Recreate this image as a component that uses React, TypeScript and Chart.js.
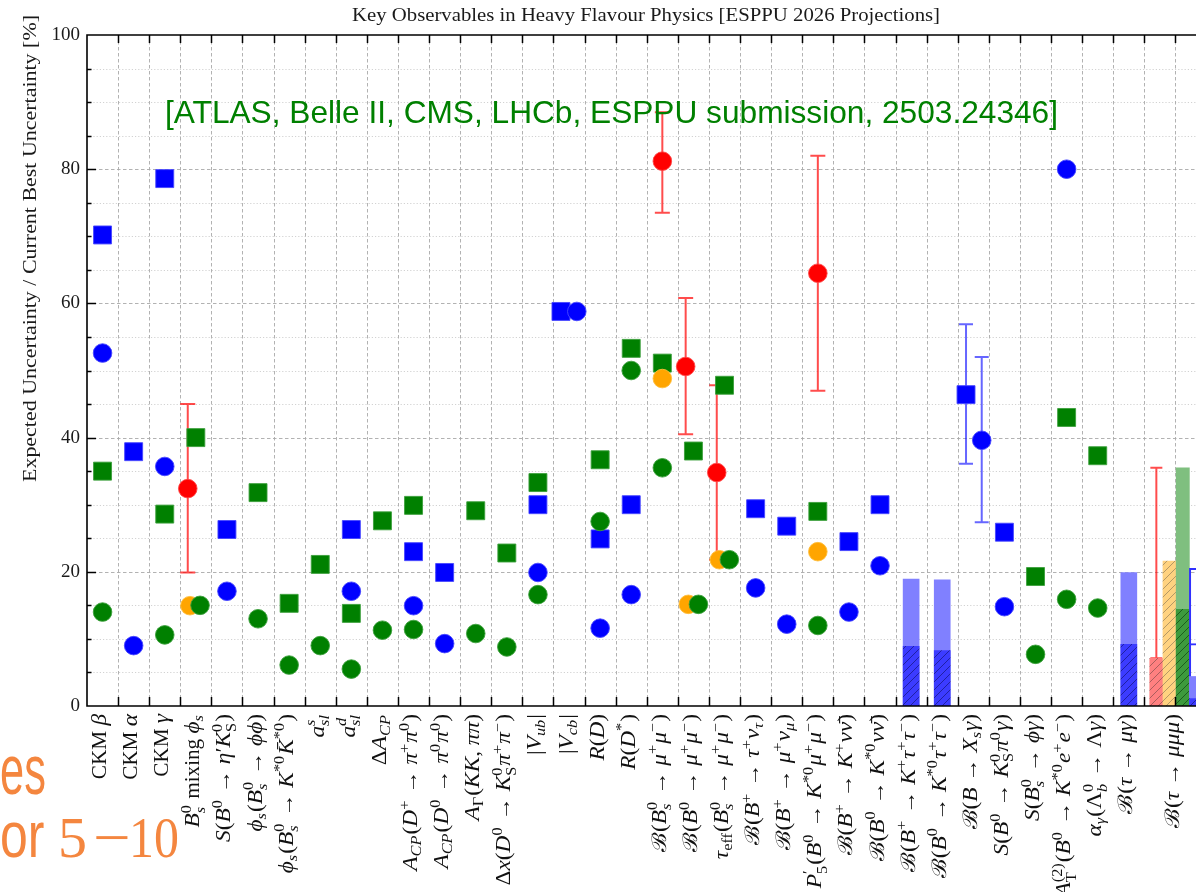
import React, { useEffect, useRef } from 'react';
import { Chart, registerables } from 'chart.js';

Chart.register(...registerables);

const n = null;

// ---- categories (TeX-like markup: $..$ math, _ sub, ^ sup, #{..} upright) ----
const categories = [
  'CKM $β$',
  'CKM $α$',
  'CKM $γ$',
  '$B_s^0$ mixing $ϕ_s$',
  '$S(B^0 → η′K_{#{S}}^0)$',
  '$ϕ_s(B_s^0 → ϕϕ)$',
  '$ϕ_s(B_s^0 → K^{*0}K\u0304^{*0})$',
  '$a_{sl}^s$',
  '$a_{sl}^d$',
  '$ΔA_{CP}$',
  '$A_{CP}(D^+ → π^+π^0)$',
  '$A_{CP}(D^0 → π^0π^0)$',
  '$A_Γ(KK, ππ)$',
  '$Δx(D^0 → K_{#{S}}^0π^+π^−)$',
  '$|V_{ub}|$',
  '$|V_{cb}|$',
  '$R(D)$',
  '$R(D^*)$',
  '$ℬ(B_s^0 → μ^+μ^−)$',
  '$ℬ(B^0 → μ^+μ^−)$',
  '$τ_{#{eff}}(B_s^0 → μ^+μ^−)$',
  '$ℬ(B^+ → τ^+ν_τ)$',
  '$ℬ(B^+ → μ^+ν_μ)$',
  '$P_5^{′}(B^0 → K^{*0}μ^+μ^−)$',
  '$ℬ(B^+ → K^+νν\u0304)$',
  '$ℬ(B^0 → K^{*0}νν\u0304)$',
  '$ℬ(B^+ → K^+τ^+τ^−)$',
  '$ℬ(B^0 → K^{*0}τ^+τ^−)$',
  '$ℬ(B → X_sγ)$',
  '$S(B^0 → K_{#{S}}^0π^0γ)$',
  '$S(B_s^0 → ϕγ)$',
  '$A_{#{T}}^{(2)}(B^0 → K^{*0}e^+e^−)$',
  '$α_γ(Λ_b^0 → Λγ)$',
  '$ℬ(τ → μγ)$',
  '$ℬ(τ → μμμ)$',
];

// category positions on the x axis
const labelPos = [
  0, 1, 2, 3, 4, 5, 6, 7, 8, 9, 10, 11, 12, 13, 14, 15, 16, 17, 18, 19,
  20, 21, 22, 23, 24, 25, 26, 27, 28, 29, 30, 31, 32, 33, 34.5,
];

const yTicks = [0, 20, 40, 60, 80, 100];

// ---- series values (% of current best uncertainty) ----
const blueSquare = [70.2, 37.9, 78.6, n, 26.3, n, n, n, 26.3, n, 23.0, 19.9, n, n, 30.0, 58.8, 24.9, 30.0, n, n, n, 29.4, 26.8, n, 24.5, 30.0, n, n, 46.4, 25.9, n, n, n, n, n];
const blueCircle = [52.6, 9.0, 35.7, n, 17.1, n, n, n, 17.1, n, 14.95, 9.3, n, n, 19.9, 58.8, 11.6, 16.6, n, n, n, 17.6, 12.2, n, 14.0, 20.9, n, n, 39.6, 14.8, n, 80.0, n, n, n];
const greenSquare = [35.0, n, 28.6, 40.0, n, 31.8, 15.3, 21.1, 13.8, 27.6, 29.9, n, 29.1, 22.8, 33.3, n, 36.7, 53.3, 51.1, 38.0, 47.8, n, n, 29.0, n, n, n, n, n, n, 19.3, 43.0, 37.3, n, n];
const greenCircle = [14.0, n, 10.6, 15.0, n, 13.0, 6.1, 9.0, 5.5, 11.3, 11.4, n, 10.8, 8.8, 16.6, n, 27.5, 50.0, 35.5, 15.15, 21.8, n, n, 12.0, n, n, n, n, n, n, 7.7, 15.9, 14.6, n, n];
const orangeCircle = [n, n, n, 14.95, n, n, n, n, n, n, n, n, n, n, n, n, n, n, 48.8, 15.15, 21.8, n, n, 23.0, n, n, n, n, n, n, n, n, n, n, n];
const redCircle = [n, n, n, 32.4, n, n, n, n, n, n, n, n, n, n, n, n, n, n, 81.2, 50.6, 34.8, n, n, 64.5, n, n, n, n, n, n, n, n, n, n, n];
const redLow = [n, n, n, 19.9, n, n, n, n, n, n, n, n, n, n, n, n, n, n, 73.5, 40.5, 21.8, n, n, 47.0, n, n, n, n, n, n, n, n, n, n, n];
const redHigh = [n, n, n, 45.0, n, n, n, n, n, n, n, n, n, n, n, n, n, n, 88.5, 60.8, 47.8, n, n, 82.0, n, n, n, n, n, n, n, n, n, n, n];
const blueSquareErr = { 28: [36.1, 56.9] };
const blueCircleErr = { 28: [27.4, 52.0] };

// upper-limit bars (indices 26, 27, 33)
const limitIndex = [26, 27, 33];
const limitOuter = [18.9, 18.8, 19.9];
const limitInner = [8.9, 8.25, 9.2];

// tau -> mu mu mu group (index 34)
const tauRedBar = 7.1;
const tauRedErrHigh = 35.5;
const tauOrangeBar = 21.6;
const tauGreenOuter = 35.5;
const tauGreenInner = 14.4;
const tauBlueOutline = [20.5, 9.3];
const tauBlueFill = [4.4, 1.1];

// horizontal shifts (category units) to avoid overlaps
const shiftBlueSquare = { 15: -0.26, 28: -0.235 };
const shiftBlueCircle = { 15: 0.25, 28: 0.27 };
const shiftGreenCircle = { 3: 0.135, 19: 0.16, 20: 0.155 };
const shiftOrange = { 3: -0.19, 19: -0.165, 20: -0.167 };
const shiftRed = { 3: -0.26, 19: -0.25, 20: -0.25 };
const tauShift = { red: -0.615, orange: -0.19, green: 0.235, blue: 0.66 };

const XMIN = -0.5;
const XMAX = 35.16;

// ---- math label mini renderer ----
const ITALIC_RE = /[A-Za-z\u03b1-\u03c9\u03d5]/;
const COMBINING_RE = /[\u0300-\u036f]/;

function parseLabel(src, startMath = false) {
  const out = [];
  let math = startMath;
  let i = 0;
  const add = (arr, ch, it, m) => {
    const last = arr[arr.length - 1];
    if (last && last.k === 'r' && ((last.it === it && last.m === m) || COMBINING_RE.test(ch))) last.s += ch;
    else arr.push({ k: 'r', s: ch, it, m });
  };
  const readGroup = () => {
    if (src[i] === '{') {
      let depth = 1;
      let j = i + 1;
      while (j < src.length && depth > 0) {
        if (src[j] === '{') depth++;
        else if (src[j] === '}') depth--;
        j++;
      }
      const g = src.slice(i + 1, j - 1);
      i = j;
      return g;
    }
    const ch = String.fromCodePoint(src.codePointAt(i));
    i += ch.length;
    return ch;
  };
  while (i < src.length) {
    const c = src[i];
    if (c === '$') { math = !math; i++; continue; }
    if (c === '#' && src[i + 1] === '{') {
      i++;
      const g = readGroup();
      for (const ch of g) add(out, ch, false, math);
      continue;
    }
    if (math && (c === '_' || c === '^')) {
      i++;
      const g = readGroup();
      const runs = parseLabel(g, true).filter((p) => p.k === 'r');
      const slot = c === '_' ? 'sub' : 'sup';
      const last = out[out.length - 1];
      if (last && last.k === 's' && last[slot] === null) last[slot] = runs;
      else out.push({ k: 's', sub: slot === 'sub' ? runs : null, sup: slot === 'sup' ? runs : null });
      continue;
    }
    const ch = String.fromCodePoint(src.codePointAt(i));
    i += ch.length;
    add(out, ch, math && ITALIC_RE.test(ch), math);
  }
  return out;
}

const SERIF = '"Liberation Serif", "DejaVu Serif", serif';
const fnt = (it, sz) => `${it ? 'italic ' : ''}${sz}px ${SERIF}`;
const MATH_SCALE = 1.1;

function runW(ctx, r, sz) {
  ctx.font = fnt(r.it, sz);
  return ctx.measureText(r.s).width * (r.m ? MATH_SCALE : 1);
}
function runsWidth(ctx, runs, sz) {
  let w = 0;
  for (const r of runs) w += runW(ctx, r, sz);
  return w;
}
function pieceWidth(ctx, p, sz) {
  if (p.k === 'r') return runW(ctx, p, sz);
  const ss = sz * 0.7;
  return Math.max(p.sub ? runsWidth(ctx, p.sub, ss) : 0, p.sup ? runsWidth(ctx, p.sup, ss) : 0) + sz * 0.05;
}
function drawRuns(ctx, runs, x, y, sz) {
  for (const r of runs) {
    ctx.font = fnt(r.it, sz);
    const s = r.m ? MATH_SCALE : 1;
    ctx.save();
    ctx.translate(x, y);
    ctx.scale(s, 1);
    ctx.fillText(r.s, 0, 0);
    ctx.restore();
    x += ctx.measureText(r.s).width * s;
  }
  return x;
}
const LABEL_SIZE = 20;
const LABEL_STRETCH = 1.06;
function drawLabel(ctx, pieces, cx, top) {
  const sz = LABEL_SIZE;
  const W = pieces.reduce((a, p) => a + pieceWidth(ctx, p, sz), 0);
  ctx.save();
  ctx.translate(cx, top);
  ctx.rotate(-Math.PI / 2);
  ctx.scale(LABEL_STRETCH, 1);
  ctx.textAlign = 'left';
  ctx.textBaseline = 'alphabetic';
  ctx.fillStyle = '#111';
  let x = -W;
  for (const p of pieces) {
    if (p.k === 'r') {
      x = drawRuns(ctx, [p], x, 0, sz);
    } else {
      const ss = sz * 0.7;
      const both = p.sub && p.sup;
      if (p.sup) drawRuns(ctx, p.sup, x, -sz * 0.42, ss);
      if (p.sub) drawRuns(ctx, p.sub, x, both ? sz * 0.27 : sz * 0.2, ss);
      x += pieceWidth(ctx, p, sz);
    }
  }
  ctx.restore();
}

function drawFit(ctx, text, x, y, targetW, font, color) {
  ctx.save();
  ctx.font = font;
  const w = ctx.measureText(text).width;
  ctx.translate(x, y);
  ctx.scale(targetW / w, 1);
  ctx.fillStyle = color;
  ctx.textAlign = 'left';
  ctx.textBaseline = 'alphabetic';
  ctx.fillText(text, 0, 0);
  ctx.restore();
}

function hatch(base, line) {
  const c = document.createElement('canvas');
  c.width = 8;
  c.height = 8;
  const g = c.getContext('2d');
  g.fillStyle = base;
  g.fillRect(0, 0, 8, 8);
  g.strokeStyle = line;
  g.lineWidth = 0.9;
  g.beginPath();
  g.moveTo(0, 8); g.lineTo(8, 0);
  g.moveTo(-2, 2); g.lineTo(2, -2);
  g.moveTo(6, 10); g.lineTo(10, 6);
  g.stroke();
  return g.createPattern(c, 'repeat');
}

const pts = (vals, shift = {}) =>
  vals.map((v, i) => (v == null ? null : { x: labelPos[i] + (shift[i] || 0), y: v })).filter((p) => p);

const parsedLabels = categories.map((c) => parseLabel(c));

const decor = {
  id: 'decor',
  beforeDatasetsDraw(chart) {
    const { ctx, chartArea: a, scales } = chart;
    const xs = scales.x;
    const ys = scales.y;
    ctx.save();
    ctx.beginPath();
    ctx.rect(a.left, a.top, a.right - a.left, a.bottom - a.top);
    ctx.clip();
    ctx.lineWidth = 0.9;
    for (let v = 5; v < 100; v += 5) {
      const py = Math.round(ys.getPixelForValue(v)) + 0.5;
      const major = v % 20 === 0;
      ctx.strokeStyle = major ? '#a9a9a9' : '#cdcdcd';
      ctx.setLineDash(major ? [3.5, 2.5] : [1.2, 2]);
      ctx.beginPath(); ctx.moveTo(a.left, py); ctx.lineTo(a.right, py); ctx.stroke();
    }
    ctx.strokeStyle = '#a9a9a9';
    ctx.setLineDash([3.5, 2.5]);
    for (let k = XMIN + 1; k < XMAX; k += 1) {
      const px = Math.round(xs.getPixelForValue(k)) + 0.5;
      ctx.beginPath(); ctx.moveTo(px, a.top); ctx.lineTo(px, a.bottom); ctx.stroke();
    }
    ctx.setLineDash([]);

    const errBar = (xv, lo, hi, color, cap) => {
      const px = xs.getPixelForValue(xv);
      const p1 = ys.getPixelForValue(lo);
      const p2 = ys.getPixelForValue(hi);
      ctx.strokeStyle = color;
      ctx.lineWidth = 2;
      ctx.beginPath();
      ctx.moveTo(px, p1); ctx.lineTo(px, p2);
      ctx.moveTo(px - cap, p1); ctx.lineTo(px + cap, p1);
      ctx.moveTo(px - cap, p2); ctx.lineTo(px + cap, p2);
      ctx.stroke();
    };
    redCircle.forEach((v, i) => {
      if (v == null) return;
      errBar(labelPos[i] + (shiftRed[i] || 0), redLow[i], redHigh[i], 'rgba(255,0,0,0.7)', 7.5);
    });
    Object.keys(blueSquareErr).forEach((k) => {
      const i = Number(k);
      errBar(labelPos[i] + (shiftBlueSquare[i] || 0), blueSquareErr[i][0], blueSquareErr[i][1], 'rgba(0,0,255,0.6)', 7);
    });
    Object.keys(blueCircleErr).forEach((k) => {
      const i = Number(k);
      errBar(labelPos[i] + (shiftBlueCircle[i] || 0), blueCircleErr[i][0], blueCircleErr[i][1], 'rgba(0,0,255,0.6)', 7);
    });
    errBar(labelPos[34] + tauShift.red, tauRedBar, tauRedErrHigh, 'rgba(255,0,0,0.7)', 6);
    ctx.restore();
  },
  afterDatasetsDraw(chart) {
    const { ctx, chartArea: a, scales } = chart;
    const xs = scales.x;
    const ys = scales.y;
    ctx.save();
    ctx.strokeStyle = '#000';
    ctx.lineWidth = 1.5;
    // ticks
    ctx.beginPath();
    for (let k = XMIN + 1; k < XMAX; k += 1) {
      const px = Math.round(xs.getPixelForValue(k)) + 0.5;
      ctx.moveTo(px, a.bottom); ctx.lineTo(px, a.bottom - 9);
      ctx.moveTo(px, a.top); ctx.lineTo(px, a.top + 8);
    }
    for (let v = 5; v < 100; v += 5) {
      const py = Math.round(ys.getPixelForValue(v)) + 0.5;
      const len = v % 20 === 0 ? 9 : 4.5;
      ctx.moveTo(a.left, py); ctx.lineTo(a.left + len, py);
    }
    ctx.stroke();
    // spines
    ctx.lineWidth = 1.6;
    ctx.beginPath();
    ctx.moveTo(a.right + 2, a.top); ctx.lineTo(a.left, a.top); ctx.lineTo(a.left, a.bottom); ctx.lineTo(a.right + 2, a.bottom);
    ctx.stroke();

    // category labels
    parsedLabels.forEach((pieces, i) => {
      drawLabel(ctx, pieces, xs.getPixelForValue(labelPos[i]) + 3.5, a.bottom + 8);
    });

    // title, y-axis title, annotation
    drawFit(ctx, 'Key Observables in Heavy Flavour Physics [ESPPU 2026 Projections]', 352, 21, 588, `19px ${SERIF}`, '#1a1a1a');
    ctx.save();
    ctx.translate(36, 482);
    ctx.rotate(-Math.PI / 2);
    drawFit(ctx, 'Expected Uncertainty / Current Best Uncertainty [%]', 0, 0, 467, `19px ${SERIF}`, '#1a1a1a');
    ctx.restore();
    drawFit(ctx, '[ATLAS, Belle II, CMS, LHCb, ESPPU submission, 2503.24346]', 165, 123, 893, '32px "Liberation Sans", Arial, sans-serif', '#008000');

    // partial orange overlay text (bottom-left)
    ctx.fillStyle = '#f4863f';
    ctx.textAlign = 'left';
    ctx.textBaseline = 'alphabetic';
    ctx.font = '70px "Liberation Sans", Arial, sans-serif';
    ctx.save();
    ctx.translate(0, 794);
    ctx.scale(0.62, 1);
    ctx.fillText('es', 0, 0);
    ctx.restore();
    ctx.font = '64px "Liberation Sans", Arial, sans-serif';
    ctx.save();
    ctx.translate(0, 857);
    ctx.scale(0.78, 1);
    ctx.fillText('or', 0, 0);
    ctx.restore();
    ctx.font = `58px ${SERIF}`;
    ctx.fillText('5', 58, 857);
    ctx.save();
    ctx.translate(93, 857);
    ctx.scale(1.15, 1);
    ctx.fillText('−', 0, 0);
    ctx.restore();
    ctx.save();
    ctx.translate(129, 857);
    ctx.scale(0.86, 1);
    ctx.fillText('10', 0, 0);
    ctx.restore();
    ctx.restore();
  },
};

export default function App() {
  const ref = useRef(null);
  useEffect(() => {
    const canvas = ref.current;
    const blue = '#0000ff';
    const green = '#008000';
    const red = '#ff0000';
    const orange = '#ffa500';
    const darkBlue = hatch('#3c3cff', 'rgba(20,20,120,0.75)');
    const darkGreen = hatch('#3d9a3d', 'rgba(10,60,10,0.7)');
    const redHatch = hatch('#ff8080', 'rgba(140,80,80,0.8)');
    const orangeHatch = hatch('#ffd280', 'rgba(150,130,90,0.8)');

    const marker = (label, data, color, edge, style, order) => ({
      type: 'scatter',
      label,
      data,
      pointStyle: style,
      pointRadius: style === 'rect' ? 12.7 : 9.3,
      pointBackgroundColor: color,
      pointBorderColor: edge,
      pointBorderWidth: 1,
      backgroundColor: color,
      borderColor: edge,
      showLine: false,
      order,
    });
    const bar = (label, data, fill, thickness, order, extra = {}) => ({
      type: 'bar',
      label,
      data,
      backgroundColor: fill,
      borderWidth: 0,
      barThickness: thickness,
      grouped: false,
      order,
      ...extra,
    });
    const tx = (s) => labelPos[34] + s;

    const datasets = [
      bar('limit outer', limitIndex.map((idx, k) => ({ x: labelPos[idx], y: limitOuter[k] })), '#8080ff', 16, 30),
      bar('limit inner', limitIndex.map((idx, k) => ({ x: labelPos[idx], y: limitInner[k] })), darkBlue, 16, 29),
      bar('tau red', [{ x: tx(tauShift.red), y: tauRedBar }], redHatch, 13.2, 28),
      bar('tau orange', [{ x: tx(tauShift.orange), y: tauOrangeBar }], orangeHatch, 13.2, 27),
      bar('tau green outer', [{ x: tx(tauShift.green), y: tauGreenOuter }], '#7fbf7f', 13.2, 26),
      bar('tau green inner', [{ x: tx(tauShift.green), y: tauGreenInner }], darkGreen, 13.2, 25),
      bar('tau blue outline', tauBlueOutline.map((v) => ({ x: tx(tauShift.blue), y: v })), 'rgba(0,0,0,0)', 13.2, 24, { borderWidth: 1.3, borderColor: '#3030ff' }),
      bar('tau blue fill', [{ x: tx(tauShift.blue), y: tauBlueFill[0] }], '#8080ff', 13.2, 23),
      bar('tau blue inner', [{ x: tx(tauShift.blue), y: tauBlueFill[1] }], darkBlue, 13.2, 22),
      marker('blue squares', pts(blueSquare, shiftBlueSquare), blue, 'rgba(70,70,255,0.9)', 'rect', 6),
      marker('blue circles', pts(blueCircle, shiftBlueCircle), blue, 'rgba(70,70,255,0.9)', 'circle', 5),
      marker('green squares', pts(greenSquare), green, 'rgba(60,160,60,0.9)', 'rect', 4),
      marker('orange circles', pts(orangeCircle, shiftOrange), orange, 'rgba(255,190,60,0.9)', 'circle', 3),
      marker('green circles', pts(greenCircle, shiftGreenCircle), green, 'rgba(60,160,60,0.9)', 'circle', 2),
      marker('red circles', pts(redCircle, shiftRed), red, 'rgba(255,70,70,0.9)', 'circle', 1),
    ];

    const chart = new Chart(canvas, {
      type: 'scatter',
      data: { datasets },
      options: {
        animation: false,
        responsive: false,
        maintainAspectRatio: false,
        devicePixelRatio: 1,
        events: [],
        layout: { autoPadding: false, padding: { left: 0, right: 0, top: 35, bottom: 0 } },
        plugins: { legend: { display: false }, tooltip: { enabled: false }, title: { display: false } },
        scales: {
          x: {
            type: 'linear',
            min: XMIN,
            max: XMAX,
            offset: false,
            grid: { display: false, drawTicks: false },
            border: { display: false },
            ticks: { display: false },
            afterFit: (s) => { s.height = 186; },
          },
          y: {
            type: 'linear',
            min: 0,
            max: 100,
            grid: { display: false, drawTicks: false },
            border: { display: false },
            afterBuildTicks: (s) => { s.ticks = yTicks.map((v) => ({ value: v })); },
            ticks: {
              padding: 7,
              color: '#1a1a1a',
              font: { family: '"Liberation Serif", "DejaVu Serif", serif', size: 19 },
              callback: (v) => String(v),
            },
            afterFit: (s) => { s.width = 87; },
          },
        },
      },
      plugins: [decor],
    });
    return () => chart.destroy();
  }, []);
  return (
    <div style={{ position: 'absolute', left: 0, top: 0, width: 1196, height: 892, overflow: 'hidden', background: '#fff' }}>
      <canvas ref={ref} width={1196} height={892} style={{ display: 'block', width: 1196, height: 892 }} />
    </div>
  );
}
